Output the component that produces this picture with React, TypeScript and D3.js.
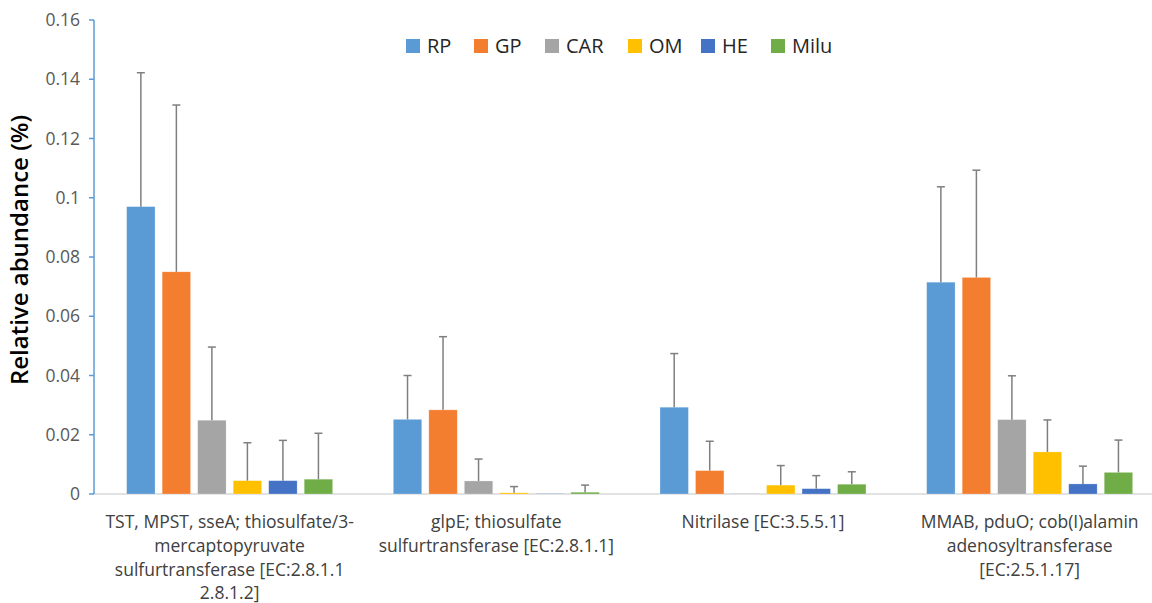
import React from "react";
import * as d3 from "d3";

const categories = [
  ["TST, MPST, sseA; thiosulfate/3-", "mercaptopyruvate", "sulfurtransferase [EC:2.8.1.1", "2.8.1.2]"],
  ["glpE; thiosulfate", "sulfurtransferase [EC:2.8.1.1]"],
  ["Nitrilase [EC:3.5.5.1]"],
  ["MMAB, pduO; cob(I)alamin", "adenosyltransferase", "[EC:2.5.1.17]"],
];
const series = ["RP", "GP", "CAR", "OM", "HE", "Milu"];
const colors = ["#5B9BD5", "#F47E30", "#A5A5A5", "#FFC000", "#4472C4", "#70AD47"];
// mean values per series, one entry per category
const meanRP = [0.097, 0.0252, 0.0293, 0.0715];
const meanGP = [0.075, 0.0284, 0.0079, 0.0731];
const meanCAR = [0.0249, 0.0044, 0.0001, 0.0251];
const meanOM = [0.0045, 0.0004, 0.003, 0.0142];
const meanHE = [0.0045, 0.0001, 0.0018, 0.0034];
const meanMilu = [0.005, 0.0006, 0.0033, 0.0073];
// standard deviation (upper error) per series
const sdRP = [0.0452, 0.0148, 0.0181, 0.0322];
const sdGP = [0.0563, 0.0247, 0.0099, 0.0362];
const sdCAR = [0.0247, 0.0074, 0.0, 0.0148];
const sdOM = [0.0128, 0.0021, 0.0066, 0.0108];
const sdHE = [0.0136, 0.0, 0.0044, 0.006];
const sdMilu = [0.0155, 0.0024, 0.0042, 0.0109];
const yTicks = [0, 0.02, 0.04, 0.06, 0.08, 0.1, 0.12, 0.14, 0.16];

const means = [meanRP, meanGP, meanCAR, meanOM, meanHE, meanMilu];
const sds = [sdRP, sdGP, sdCAR, sdOM, sdHE, sdMilu];

export default function App() {
  const W = 1152, H = 603;
  const y = d3.scaleLinear().domain([0, 0.16]).range([494, 20]);
  const catIdx = categories.map((_, i) => String(i));
  const x0 = d3.scaleBand().domain(catIdx).range([96.3, 1163]).paddingInner(0.2276).paddingOuter(0.1138);
  const x1 = d3.scaleBand().domain(series).range([0, x0.bandwidth()]).paddingInner(0.2);
  const legendX = [406, 474, 545, 628, 701, 771];
  const axisX = 94;
  return (
    <svg width={W} height={H} style={{ position: "absolute", left: 0, top: 0, background: "#fff" }}>
      {/* baseline */}
      <line x1={axisX} x2={1152} y1={y(0)} y2={y(0)} stroke="#D9D9D9" strokeWidth={1.5} />
      {/* bars */}
      {categories.map((_, ci) => (
        <g key={ci} transform={`translate(${x0(String(ci))},0)`}>
          {series.map((s, si) => {
            const v = means[si][ci];
            const bx = x1(s)!;
            const bw = x1.bandwidth();
            const top = y(v);
            const eTop = y(v + sds[si][ci]);
            const cx = bx + bw / 2;
            return (
              <g key={s}>
                <rect x={bx} y={top} width={bw} height={y(0) - top} fill={colors[si]} stroke="#fff" strokeOpacity={0.4} strokeWidth={0.6} />
                {sds[si][ci] > 0 && (
                  <>
                    <line x1={cx} x2={cx} y1={top} y2={eTop} stroke="#7F7F7F" strokeWidth={1.5} />
                    <line x1={cx - 4} x2={cx + 4} y1={eTop} y2={eTop} stroke="#7F7F7F" strokeWidth={1.5} />
                  </>
                )}
              </g>
            );
          })}
        </g>
      ))}
      {/* y axis */}
      <line x1={axisX} x2={axisX} y1={y(0.16)} y2={y(0)} stroke="#5B9BD5" strokeWidth={1.5} />
      {yTicks.map((t) => (
        <g key={t}>
          <line x1={axisX - 5} x2={axisX} y1={y(t)} y2={y(t)} stroke="#5B9BD5" strokeWidth={1.5} />
          <text x={80} y={y(t)} dy="0.35em" textAnchor="end" fontFamily="'Open Sans', sans-serif" fontSize={17.5} fill="#595959">
            {String(t)}
          </text>
        </g>
      ))}
      <text transform={`translate(20,250) rotate(-90)`} textAnchor="middle" dy="0.35em"
        fontFamily="'Open Sans', sans-serif" fontWeight={600} fontSize={24} fill="#000">
        Relative abundance (%)
      </text>
      {/* x labels */}
      {categories.map((lines, ci) => (
        <text key={ci} textAnchor="middle"
          fontFamily="'Open Sans', sans-serif" fontSize={17.5} fill="#404040">
          {lines.map((l, li) => (
            <tspan key={li} x={x0(String(ci))! + x0.bandwidth() / 2} y={522 + li * 23.7} dy="0.35em">{l}</tspan>
          ))}
        </text>
      ))}
      {/* legend */}
      {series.map((s, si) => (
        <g key={s}>
          <rect x={legendX[si]} y={39} width={14} height={14} fill={colors[si]} />
          <text x={legendX[si] + 21} y={46} dy="0.35em" fontFamily="'Open Sans', sans-serif" fontSize={20} fill="#262626">{s}</text>
        </g>
      ))}
    </svg>
  );
}
